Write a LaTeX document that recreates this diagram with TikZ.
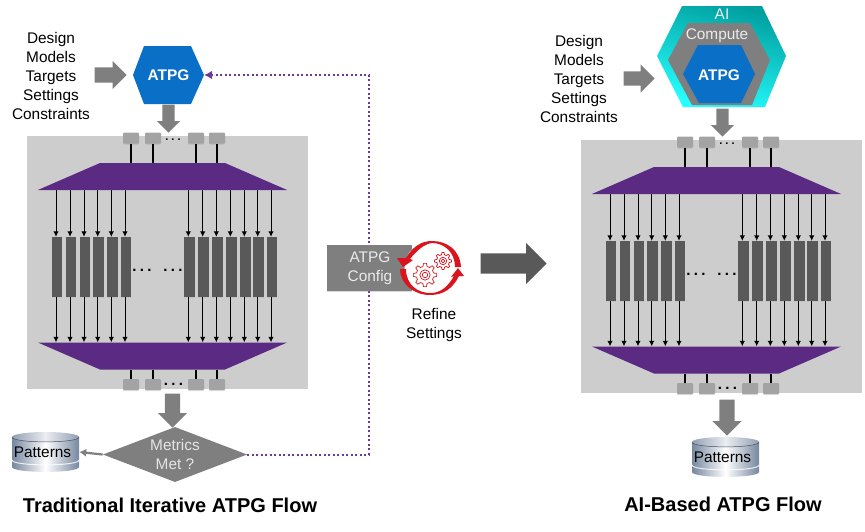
\documentclass[tikz,border=0pt]{standalone}
\usepackage{fontspec}
\setmainfont{Liberation Sans}
\usetikzlibrary{arrows.meta,shapes.geometric,shapes.arrows,shadows}
\definecolor{planegray}{HTML}{CDCDCD}
\definecolor{arrowgray}{HTML}{7F7F7F}
\definecolor{darkgray}{HTML}{595959}
\definecolor{tabgray}{HTML}{A3A3A3}
\definecolor{muxpurple}{HTML}{5B2A82}
\definecolor{loopviolet}{HTML}{6B3A96}
\definecolor{atpgblue}{HTML}{0A6FC6}
\definecolor{refinered}{HTML}{D9141C}
\definecolor{dbsteel}{HTML}{76879F}
\newcommand{\dotrun}[1]{.\hspace{#1}.\hspace{#1}.}
\newcommand{\muxspan}{\phantom{\rule{125pt}{27pt}}}
\begin{document}
\begin{tikzpicture}[
    x=1pt, y=-1pt,
    body/.style={font=\fontsize{15.4}{19}\selectfont, align=center, inner sep=0pt},
    title/.style={font=\fontsize{20}{24}\selectfont\bfseries, inner sep=0pt},
    hexlabel/.style={font=\fontsize{15.4}{19}\selectfont\bfseries, text=white, inner sep=0pt},
    softlabel/.style={body, text=white!92!black},
    plane/.style={rectangle, fill=planegray, minimum width=281pt, minimum height=253pt, inner sep=0pt},
    tabbox/.style={rectangle, rounded corners=1pt, fill=tabgray, minimum width=16pt, minimum height=11pt, inner sep=0pt, drop shadow={shadow xshift=0pt, shadow yshift=-1pt, opacity=.25}},
    regbox/.style={rectangle, fill=darkgray, minimum width=10.7pt, minimum height=60pt, inner sep=0pt, drop shadow={shadow xshift=0pt, shadow yshift=-.5pt, opacity=.12}},
    muxbox/.style={trapezium, trapezium angle=23.5, fill=muxpurple, inner sep=0pt},
    wire/.style={black, line width=1.4pt},
    regwire/.style={black, line width=1pt, -{Latex[length=5.5pt,width=5.5pt]}},
    fatarrow/.style n args={4}{single arrow, fill=#1, minimum height=#2, minimum width=#3, inner xsep=0pt, inner ysep=#4, single arrow head extend=#3/2-#4, anchor=tip},
    metricsbox/.style={diamond, aspect=2.62, fill=arrowgray, inner sep=2.1pt, text=white!90!black},
    configbox/.style={rectangle, fill=arrowgray, minimum width=85pt, minimum height=46pt, drop shadow={shadow xshift=0pt, shadow yshift=-1pt, opacity=.3}},
    feedback/.style={loopviolet, line width=2pt, dash pattern=on 2pt off 2.5pt, -{Latex[length=8pt,width=9pt,fill=loopviolet]}},
    gearline/.style={refinered, line width=.7pt},
    pics/gearicon/.style={code={
        \draw[gearline, fill=white] (0:10) \foreach \a in {0,45,...,315} { -- (\a+7:10) -- (\a+14:7.5) -- (\a+31:7.5) -- (\a+38:10) } -- cycle;
        \draw[gearline] (0,0) circle (4.4);
        \draw[gearline] (0,0) circle (2.3);
    }},
    pics/dbicon/.style={code={
        \path[left color=dbsteel, right color=dbsteel, middle color=white] (-33.5,-15) -- (-33.5,15) .. controls (-33.5,21.5) and (33.5,21.5) .. (33.5,15) -- (33.5,-15) -- cycle;
        \path[left color=dbsteel!80!white, right color=dbsteel!80!white, middle color=white!85!dbsteel] (0,-15) ellipse (33.5 and 5);
        \draw[dbsteel!60!black, line width=.5pt] (-33.5,-15) .. controls (-33.5,-8.5) and (33.5,-8.5) .. (33.5,-15);
        \draw[white, line width=1pt, opacity=.8] (-33.5,8) .. controls (-33.5,14.5) and (33.5,14.5) .. (33.5,8);
        \node[font=\fontsize{15.4}{19}\selectfont, minimum width=73pt, minimum height=40pt, inner sep=0pt] (-store) at (-3,0) {Patterns};
    }},
    pics/scanblock/.style={code={
        \node[plane] (-back) at (167.5,262.5) {};
        \node[muxbox] (-muxin) at (162.5,176.5) {\muxspan};
        \node[muxbox, shape border rotate=180] (-muxout) at (162.5,356) {\muxspan};
        % tabs above and below
        \foreach \i/\cx in {1/131,2/153,3/196,4/217} {
            \node[tabbox] (-tabin\i) at (\cx,138) {};
            \node[tabbox] (-tabout\i) at (\cx,384.5) {};
            \draw[wire] (-tabin\i.south) -- (-tabin\i.south |- -muxin.north);
            \draw[wire] (-tabout\i.north) -- (-tabout\i.north |- -muxout.south);
        }
        \node[font=\fontsize{11}{11}\selectfont\bfseries, inner sep=0pt] (-dotsin) at (173,140) {\dotrun{3pt}};
        \node[font=\fontsize{15}{15}\selectfont\bfseries, inner sep=0pt] (-dotsout) at (173.5,384) {\dotrun{3.4pt}};
        % registers
        \foreach \i/\cx in {1/57,2/71,3/85,4/98.7,5/112.3,6/126,7/189.3,8/203.7,9/217.3,10/231.3,11/245.3,12/258.7,13/272} {
            \node[regbox] (-reg\i) at (\cx,267) {};
            \draw[regwire] ([xshift=-1pt]-reg\i.north |- -muxin.south) -- ([xshift=-1pt]-reg\i.north);
            \draw[regwire] ([xshift=-1pt]-reg\i.south) -- ([xshift=-1pt]-reg\i.south |- -muxout.north);
        }
        \node[font=\fontsize{15}{15}\selectfont\bfseries, inner sep=0pt] (-dotsa) at (142,270) {\dotrun{3.4pt}};
        \node[font=\fontsize{15}{15}\selectfont\bfseries, inner sep=0pt] (-dotsb) at (173,270) {\dotrun{3.4pt}};
    }}
]
\useasboundingbox (0,0) rectangle (865,531);

% Traditional flow
\pic (trad) at (0,0) {scanblock};
\node[body] (inputsl) at (51,75.5) {Design\\Models\\Targets\\Settings\\Constraints};
\node[fatarrow={arrowgray}{32pt}{28pt}{7.5pt}] (intoatpg) at (127,75) {};
\path[fill=atpgblue] (144,46) -- (191,46) -- (204,75) -- (191,104) -- (144,104) -- (133,75) -- cycle;
\node[hexlabel, minimum width=71pt, minimum height=58pt] (atpg) at (168.5,75) {ATPG};
\node[fatarrow={arrowgray}{28pt}{23pt}{6pt}, rotate=-90] (atpgdown) at (168.5,133) {};
\node[fatarrow={arrowgray}{34pt}{29pt}{7.5pt}, rotate=-90] (blockdown) at (172.5,428) {};
\node[softlabel, metricsbox] (metrics) at (175,454.5) {Metrics\\Met ?};
\pic (patternsl) at (45.5,452) {dbicon};
\draw[arrowgray, line width=2.2pt, -{Latex[length=7pt,width=8pt]}] (metrics.west) -- (patternsl-store.east);
\node[title] (titlel) at (170,505) {Traditional Iterative ATPG Flow};

% Refine loop
\coordinate (loopturn) at (369,75);
\draw[feedback] (metrics.east) -| (loopturn) -- (atpg.east);
\node[configbox] (config) at (369.5,268) {};
\path[fill=white] (431.5,268) circle (27);
\node[softlabel] (configtext) at (370,268.5) {ATPG\\Config};
\path[fill=refinered] (461,267) .. controls (460,250) and (447,241) .. (432,241) .. controls (422,241) and (413,246) .. (406,258)
    -- (397,258) -- (403,267) -- (413,260) -- (410,259) .. controls (418,249) and (425,244) .. (432,243) .. controls (445,243) and (455,253) .. (455,267) -- cycle;
\path[fill=refinered] (400,269) .. controls (400,283) and (413,295) .. (430,295) .. controls (444,295) and (453,288) .. (459,276)
    -- (464,276) -- (458,268) -- (451,277) -- (454,276) .. controls (447,288) and (440,293) .. (430,293) .. controls (418,293) and (406,285) .. (406,269) -- cycle;
\pic[scale=1.17] at (425,275) {gearicon};
\pic[scale=.85] at (443,261) {gearicon};
\node[body] (refine) at (434,325) {Refine\\Settings};
\node[fatarrow={darkgray}{66pt}{41pt}{10pt}] (flowarrow) at (547,263.5) {};

% AI flow
\pic (aibased) at (554,4) {scanblock};
\node[body] (inputsr) at (579,79) {Design\\Models\\Targets\\Settings\\Constraints};
\node[fatarrow={arrowgray}{31pt}{28pt}{7pt}] (intoai) at (655,78.5) {};
\path[top color=teal!75!cyan, bottom color=cyan!85!white, shading angle=-15] (682,6) -- (762,6) -- (786,56) -- (765,107) -- (683,107) -- (657,56) -- cycle;
\path[fill=arrowgray] (688,23) -- (750,23) -- (770,60) -- (752,105) -- (692,105) -- (668,60) -- cycle;
\path[fill=atpgblue] (698,45) -- (741,45) -- (755,74) -- (741,103) -- (699,103) -- (683,74) -- cycle;
\node[softlabel] (ailabel) at (722,14) {AI};
\node[softlabel] (computelabel) at (717,36) {Compute};
\node[hexlabel, minimum width=72pt] (atpgai) at (719,75) {ATPG};
\node[fatarrow={arrowgray}{28pt}{23pt}{6pt}, rotate=-90] (aidown) at (722.5,137) {};
\pic (patternsr) at (725.5,457) {dbicon};
\node[fatarrow={arrowgray}{36pt}{29pt}{7.5pt}, rotate=-90] (airesult) at (727,436) {};
\node[title] (titler) at (723,504) {AI-Based ATPG Flow};
\end{tikzpicture}
\end{document}
